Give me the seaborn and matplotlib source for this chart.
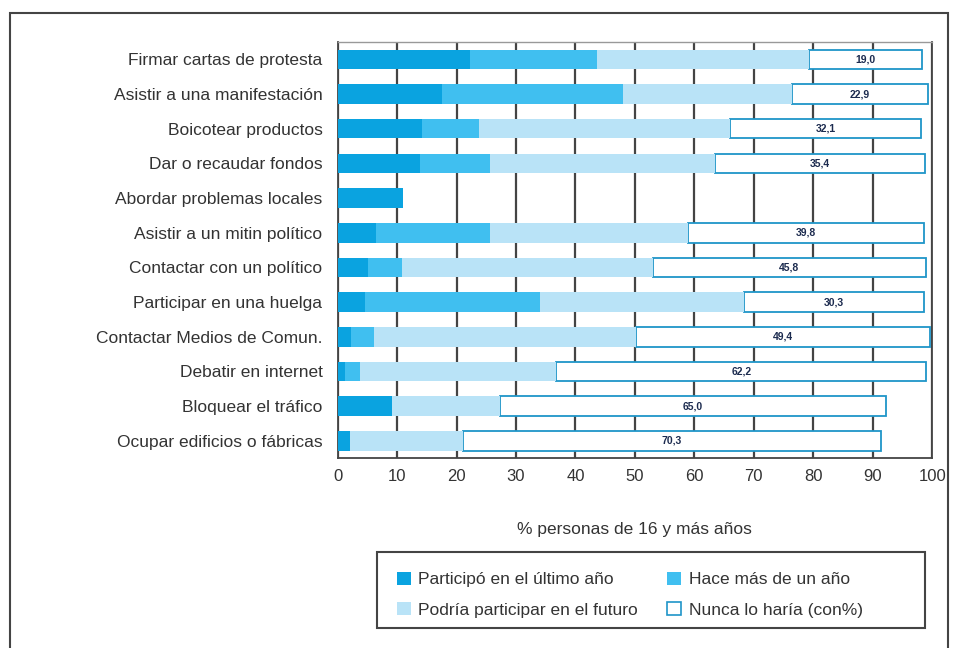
import matplotlib
matplotlib.use('Agg')
import matplotlib.pyplot as plt
from matplotlib.patches import Rectangle
import numpy as np
import pandas as pd
import seaborn as sns

# ---------------------------------------------------------------
# Data
# ---------------------------------------------------------------
categories = [
    "Firmar cartas de protesta", "Asistir a una manifestación",
    "Boicotear productos", "Dar o recaudar fondos",
    "Abordar problemas locales", "Asistir a un mitin político",
    "Contactar con un político", "Participar en una huelga",
    "Contactar Medios de Comun.", "Debatir en internet",
    "Bloquear el tráfico", "Ocupar edificios o fábricas",
]
ultimo_ano = [22.2, 17.6, 14.2, 13.9, 11.0, 6.4, 5.1, 4.6, 2.2, 1.2, 9.2, 2.0]
mas_de_un_ano = [21.5, 30.4, 9.6, 11.8, 0.0, 19.3, 5.7, 29.5, 3.9, 2.6, 0.0, 0.0]
podria = [35.6, 28.4, 42.2, 37.7, 0.0, 33.2, 42.3, 34.2, 44.1, 33.0, 18.1, 19.1]
nunca = [19.0, 22.9, 32.1, 35.4, np.nan, 39.8, 45.8, 30.3, 49.4, 62.2, 65.0, 70.3]

legend_labels = ["Participó en el último año", "Hace más de un año",
                 "Podría participar en el futuro", "Nunca lo haría (con%)"]
xticks = list(range(0, 101, 10))

df = pd.DataFrame({
    "cat": categories,
    "c1": ultimo_ano,
    "c2": np.array(ultimo_ano) + np.array(mas_de_un_ano),
    "c3": np.array(ultimo_ano) + np.array(mas_de_un_ano) + np.array(podria),
    "nunca": nunca,
})

col_dark = "#0aa3e0"
col_mid = "#40bff0"
col_light = "#b9e3f7"
col_edge = "#1f95c8"
grey = "#444444"
txt = "#333333"
fs = 12.5

sns.set_style("white")
plt.rcParams['font.family'] = ['Liberation Sans', 'DejaVu Sans']

fig = plt.figure(figsize=(9.62, 6.48), dpi=100)
ax = fig.add_axes([0.351, 0.293, 0.618, 0.642])

# "Nunca" segment: drawn as its own bar, then shifted to start at the cumulative total
sns.barplot(data=df, y="cat", x=df["nunca"].fillna(0), orient="y", color="white",
            saturation=1, edgecolor=col_edge, linewidth=1.3, width=0.56, ax=ax, zorder=3)
for p, start, val in zip(list(ax.patches), df["c3"], df["nunca"]):
    if np.isnan(val):
        p.set_visible(False)
    else:
        p.set_x(start)

# cumulative layers, largest first so the smaller ones sit on top
for col, color in [("c3", col_light), ("c2", col_mid), ("c1", col_dark)]:
    sns.barplot(data=df, y="cat", x=col, orient="y", color=color, saturation=1,
                linewidth=0, width=0.56, ax=ax, zorder=3)

# value labels inside the white segment
for i, (start, val) in enumerate(zip(df["c3"], df["nunca"])):
    if not np.isnan(val):
        ax.text(start + val / 2, i, f"{val:.1f}".replace(".", ","),
                ha="center", va="center", fontsize=7.5, fontweight="bold",
                color="#1c2b4f", zorder=4)

ax.set_xlim(0, 100)
ax.set_ylim(len(categories) - 0.5, -0.5)
ax.set_xticks(xticks)
ax.set_xticklabels([str(t) for t in xticks], fontsize=12, color=txt)
ax.set_yticks(range(len(categories)))
ax.set_yticklabels(categories, fontsize=fs, color=txt)
ax.set_yticks(np.arange(-0.5, len(categories), 1.0), minor=True)
ax.tick_params(axis="y", which="major", length=0, pad=11)
ax.tick_params(axis="y", which="minor", length=5, width=1.2, color=grey, direction="out")
ax.tick_params(axis="x", which="major", length=4, width=1.2, color=grey, direction="inout", pad=6)

ax.set_xlabel("% personas de 16 y más años", fontsize=fs, color=txt, labelpad=27)
ax.set_ylabel("")

ax.grid(axis="x", color=grey, linewidth=1.6, zorder=0)
ax.set_axisbelow(True)
for side, spine in ax.spines.items():
    spine.set_visible(True)
    spine.set_color(grey)
    spine.set_linewidth(1.3)
ax.spines["top"].set_color("#999999")
ax.spines["top"].set_linewidth(1.0)

# legend (frame drawn separately, it is wider than the entries)
handles = [
    Rectangle((0, 0), 1, 1, facecolor=col_dark, edgecolor="none"),
    Rectangle((0, 0), 1, 1, facecolor=col_light, edgecolor="none"),
    Rectangle((0, 0), 1, 1, facecolor=col_mid, edgecolor="none"),
    Rectangle((0, 0), 1, 1, facecolor="white", edgecolor=col_edge, linewidth=1.2),
]
labels = [legend_labels[0], legend_labels[2], legend_labels[1], legend_labels[3]]
leg = fig.legend(handles, labels, ncol=2, loc="upper left",
                 bbox_to_anchor=(381 / 962, 1 - 556 / 648),
                 fontsize=fs, frameon=False,
                 handlelength=0.8, handleheight=0.8, handletextpad=0.46,
                 columnspacing=1.65, labelspacing=0.85, borderpad=0.4)
for t in leg.get_texts():
    t.set_color(txt)
fig.patches.append(Rectangle((377 / 962, 1 - 628 / 648), 548 / 962, 76 / 648,
                             transform=fig.transFigure, fill=False,
                             edgecolor=grey, linewidth=1.5))

# outer frame of the figure
fig.patches.append(Rectangle((10 / 962, -0.05), 938 / 962, 1.03, transform=fig.transFigure,
                             fill=False, edgecolor=grey, linewidth=1.5))

fig.savefig("out.png", dpi=100)
